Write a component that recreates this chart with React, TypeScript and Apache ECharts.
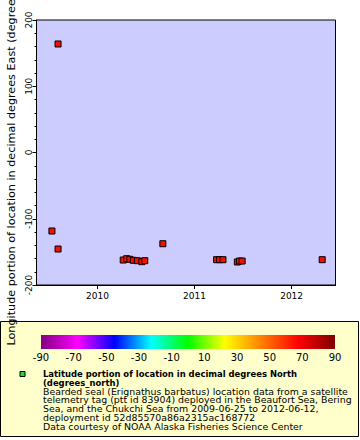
import React, { useEffect, useRef } from 'react';
import * as echarts from 'echarts';

// Observation dates and longitudes (degrees East)
const dates = [
  '2009-07-14', '2009-08-06', '2009-08-06',
  '2010-04-08', '2010-04-21', '2010-05-03', '2010-05-16', '2010-05-31', '2010-06-17', '2010-06-28',
  '2010-09-04',
  '2011-03-25', '2011-04-05', '2011-04-18', '2011-06-11', '2011-06-19', '2011-06-29',
  '2012-04-25',
];
const longitudes = [
  -118.5, 163.8, -145.7,
  -162.3, -160.3, -161.2, -162.7, -163.3, -164.8, -163.3,
  -137.7,
  -161.8, -161.8, -161.8, -165.3, -163.8, -163.8,
  -161.8,
];

const xTickYears = [2010, 2011, 2012];
const xRange = ['2009-05-17', '2012-06-14'];
const yRange = [-200, 200];
const yInterval = 100;
const colorbarRange = [-90, 90];
const colorbarInterval = 20;

const yAxisTitle = 'Longitude portion of location in decimal degrees East (degrees_east)';
const legendBoldLines = [
  'Latitude portion of location in decimal degrees North',
  '(degrees_north)',
];
const legendLines = [
  'Bearded seal (Erignathus barbatus) location data from a satellite',
  'telemetry tag (ptt id 83904) deployed in the Beaufort Sea, Bering',
  'Sea, and the Chukchi Sea from 2009-06-25 to 2012-06-12,',
  'deployment id 52d85570a86a2315ac168772',
  'Data courtesy of NOAA Alaska Fisheries Science Center',
];

const FONT = 'DejaVu Sans';
const toMs = (d: string) => Date.parse(d + 'T00:00:00Z');

export default function App() {
  const ref = useRef<HTMLDivElement>(null);

  useEffect(() => {
    if (!ref.current) return;
    const chart = echarts.init(ref.current, null, { renderer: 'svg' });

    const rainbow = new echarts.graphic.LinearGradient(0, 0, 1, 0, [
      { offset: 0, color: '#800080' },
      { offset: 0.125, color: '#ff00ff' },
      { offset: 0.25, color: '#0000ff' },
      { offset: 0.375, color: '#00ffff' },
      { offset: 0.5, color: '#00ff00' },
      { offset: 0.625, color: '#ffff00' },
      { offset: 0.75, color: '#ff8000' },
      { offset: 0.875, color: '#ff0000' },
      { offset: 1, color: '#800000' },
    ]);

    const lineH = 8.85;
    const textEls: any[] = [];
    const allLines = [...legendBoldLines, ...legendLines];
    allLines.forEach((t, i) => {
      const bold = i < legendBoldLines.length;
      textEls.push({
        type: 'text',
        x: 43,
        y: 373.3 + i * lineH,
        z: 5,
        style: {
          text: t,
          fill: '#000',
          font: bold ? `bold 9.4px "DejaVu Sans Condensed", "${FONT}"` : `9.4px "${FONT}"`,
          textVerticalAlign: 'middle',
          textAlign: 'left',
        },
      });
    });

    const yearTicks = xTickYears.map((y) => Date.UTC(y, 0, 1));

    chart.setOption({
      animation: false,
      backgroundColor: '#ffffff',
      textStyle: { fontFamily: FONT },
      grid: [
        {
          left: 36.5,
          top: 20,
          right: 24.5,
          bottom: 155,
          show: true,
          containLabel: false,
          outerBoundsMode: 'none',
          backgroundColor: '#ccccff',
          borderColor: '#000',
          borderWidth: 1,
        },
        {
          left: 41,
          right: 25,
          top: 335,
          height: 14,
          show: true,
          containLabel: false,
          outerBoundsMode: 'none',
          backgroundColor: rainbow,
          borderWidth: 0,
        },
      ],
      xAxis: [
        {
          type: 'value',
          gridIndex: 0,
          min: toMs(xRange[0]),
          max: toMs(xRange[1]),
          splitLine: { show: false },
          axisLine: { show: true, onZero: false, lineStyle: { color: '#000', width: 1 } },
          axisTick: {
            show: true,
            length: 4,
            lineStyle: { color: '#000' },
            customValues: yearTicks,
          },
          axisLabel: {
            color: '#000',
            fontSize: 9,
            fontFamily: FONT,
            margin: 6,
            customValues: yearTicks,
            formatter: (v: number) => String(new Date(v).getUTCFullYear()),
          },
        },
        {
          type: 'value',
          gridIndex: 1,
          min: colorbarRange[0],
          max: colorbarRange[1],
          interval: colorbarInterval,
          axisLine: { show: false, onZero: false },
          axisTick: { show: false },
          splitLine: { show: false },
          axisLabel: {
            color: '#000',
            fontSize: 10,
            fontFamily: FONT,
            margin: 3,
          },
        },
      ],
      yAxis: [
        {
          type: 'value',
          gridIndex: 0,
          min: yRange[0],
          max: yRange[1],
          interval: yInterval,
          name: yAxisTitle,
          nameLocation: 'middle',
          nameGap: 19,
          nameRotate: 90,
          nameTextStyle: { color: '#000', fontSize: 11.2, fontFamily: FONT },
          splitLine: { show: false },
          axisLine: { show: true, onZero: false, lineStyle: { color: '#000', width: 1 } },
          axisTick: { show: true, length: 4, lineStyle: { color: '#000' } },
          minorTick: { show: true, splitNumber: 5, length: 2, lineStyle: { color: '#000' } },
          axisLabel: {
            color: '#000',
            fontSize: 9,
            fontFamily: FONT,
            rotate: 90,
            margin: 3,
          },
          z: 10,
        },
        {
          type: 'value',
          gridIndex: 1,
          show: false,
          min: 0,
          max: 1,
        },
      ],
      graphic: [
        {
          type: 'rect',
          z: -1,
          shape: { x: 0.5, y: 321.5, width: 358, height: 115 },
          style: { fill: '#ffffcc', stroke: '#000', lineWidth: 1 },
        },
        {
          type: 'rect',
          z: 5,
          shape: { x: 20, y: 371.5, width: 5, height: 5 },
          style: { fill: '#22dd22', stroke: '#000', lineWidth: 1 },
        },
        ...textEls,
      ],
      series: [
        {
          type: 'scatter',
          xAxisIndex: 0,
          yAxisIndex: 0,
          symbol: 'rect',
          symbolSize: 6,
          itemStyle: { color: '#f21000', borderColor: '#000', borderWidth: 1, opacity: 1 },
          data: dates.map((d, i) => [toMs(d), longitudes[i]]),
        },
      ],
    });

    return () => chart.dispose();
  }, []);

  return (
    <div
      ref={ref}
      style={{ position: 'fixed', left: 0, top: 0, width: 360, height: 440 }}
    />
  );
}
